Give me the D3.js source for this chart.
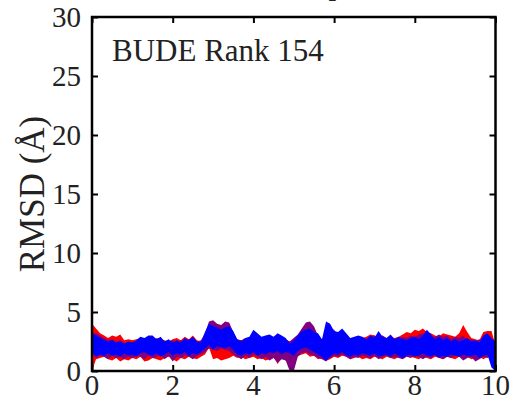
<!DOCTYPE html>
<html>
<head>
<meta charset="utf-8">
<script src="https://cdn.jsdelivr.net/npm/d3@7"></script>
<style>
  body { margin: 0; background: #fff; }
  svg { display: block; }
  text { font-family: "Liberation Serif", "DejaVu Serif", serif; fill: #222; }
</style>
</head>
<body>
<figure id="rmsd" style="margin:0"></figure>
<script>
// time in ns, sampled every 0.1 ns
const time = d3.range(0, 101).map(i => i / 10);

// band edges (RMSD, Å) for each run
const redUpper = [4.0,3.6,3.2,3.0,2.8,3.0,2.9,3.1,2.6,2.7, 2.6,2.7,2.8,2.6,2.9,2.6,2.8,2.7,2.6,2.5,
  2.7,2.8,2.6,2.9,2.7,3.0,2.6,2.5,2.9,3.5, 3.3,3.2,3.1,3.4,3.2,2.9,2.7,2.6,2.8,2.7,
  3.0,2.8,2.7,2.9,2.8,2.7,2.9,2.8,2.6,2.5, 2.7,3.0,3.2,3.3,3.1,3.0,2.8,2.6,3.0,3.2,
  3.1,3.0,3.3,3.0,2.7,2.8,2.9,2.8,2.9,3.1, 3.0,2.9,3.0,2.8,2.9,2.8,2.9,3.1,3.3,3.2,
  3.5,3.4,3.6,3.3,3.2,3.0,2.9,3.2,3.1,3.0, 2.9,3.2,3.9,3.3,2.8,2.7,2.6,3.3,3.4,3.4, 2.2];
const redLower = [0.0,1.0,1.1,1.2,1.0,0.9,1.1,0.8,1.0,0.9, 1.1,1.0,1.2,0.8,0.9,1.1,1.0,0.9,1.1,1.2,
  1.0,0.8,1.1,1.0,1.2,1.1,1.0,1.2,1.4,2.0, 1.0,1.1,0.9,1.0,1.1,1.3,1.1,1.2,1.0,1.1,
  1.2,1.0,1.1,0.9,1.0,1.2,0.6,1.1,0.9,1.0, 1.1,1.3,1.4,1.5,1.2,1.3,1.0,1.1,0.9,1.0,
  1.2,1.1,1.3,1.2,1.0,1.1,1.2,1.0,1.1,1.0, 1.2,1.1,1.0,1.2,1.1,1.0,1.2,1.1,1.3,1.2,
  1.1,1.0,1.2,1.1,1.0,1.2,1.1,1.0,1.2,1.1, 1.0,1.2,1.1,1.2,1.0,1.1,1.2,1.0,1.2,1.1, 1.0];

const purpleUpper = [3.0,3.2,3.0,2.8,2.6,2.7,2.5,2.6,2.4,2.3, 2.5,2.4,2.6,2.7,2.8,2.7,2.6,2.8,2.4,2.5,
  2.6,2.4,2.6,2.5,2.7,2.6,2.5,2.6,3.2,4.2, 4.3,4.0,3.9,4.2,4.1,3.3,2.6,2.6,2.7,2.6,
  2.9,3.0,2.7,2.8,2.9,2.7,2.8,2.6,2.7,2.5, 2.8,3.1,3.6,4.1,4.2,3.8,3.0,2.6,3.3,3.6,
  3.5,3.0,3.4,3.1,2.7,2.8,2.6,2.8,2.7,2.9, 3.0,2.8,3.0,2.7,2.9,2.6,2.7,2.9,2.8,3.0,
  2.9,3.1,3.2,3.0,2.8,2.9,3.1,2.9,3.0,2.7, 2.9,2.8,3.0,2.6,2.7,2.5,2.7,2.6,2.9,2.7, 2.5];
const purpleLower = [1.5,1.1,1.3,1.2,1.0,1.3,1.1,1.2,1.0,1.2, 1.1,1.3,1.2,1.0,1.3,1.1,1.2,1.4,1.0,1.3,
  0.8,1.2,1.1,1.3,1.2,1.0,1.3,1.4,1.6,1.9, 1.8,1.7,1.9,1.8,1.7,1.4,1.2,1.0,1.3,1.1,
  1.4,1.2,1.0,1.2,0.9,1.1,0.7,1.0,0.9,0.0, 0.0,1.2,1.5,1.6,1.4,1.3,1.1,1.0,0.8,1.1,
  1.3,1.2,1.4,1.2,1.0,1.2,1.1,1.3,1.2,1.1, 1.3,1.0,1.2,1.3,1.1,1.2,1.1,1.0,1.2,1.1,
  1.3,1.2,1.0,1.2,1.1,1.3,1.2,1.0,1.2,1.1, 1.3,1.2,0.9,1.1,1.2,0.8,1.0,1.2,1.1,1.3, 1.2];

const blueUpper = [3.3,3.0,2.8,2.6,2.5,2.6,2.4,2.5,2.3,2.5, 2.4,2.6,2.9,2.8,3.0,3.0,2.7,2.9,2.5,2.7,
  2.4,2.6,2.4,2.8,2.6,2.9,2.5,2.4,3.3,4.0, 3.8,3.7,3.5,3.7,3.8,3.4,2.7,2.5,2.8,2.9,
  3.5,3.2,2.9,3.0,3.1,2.9,3.2,3.0,2.8,2.3, 2.6,3.0,3.4,3.5,3.6,3.3,3.2,2.7,4.2,4.0,
  3.4,3.3,3.6,3.2,2.8,2.9,3.0,2.9,2.7,3.0, 2.8,3.4,2.9,2.8,3.1,2.7,2.9,2.7,2.6,2.8,
  2.9,2.7,3.0,3.5,3.1,2.7,2.9,2.6,2.8,2.5, 2.7,2.5,2.6,2.8,2.5,2.6,2.4,3.0,3.2,2.8, 2.5];
const blueLower = [1.6,1.2,1.4,1.3,1.5,1.3,1.4,1.2,1.5,1.3, 1.4,1.2,1.5,1.6,1.4,1.3,1.5,1.2,1.4,1.6,
  1.3,1.5,1.4,1.6,1.3,1.5,1.4,1.6,1.9,2.2, 1.8,2.1,2.0,1.9,2.1,1.8,1.4,1.3,1.5,1.4,
  1.6,1.3,1.5,1.4,1.6,1.5,1.7,1.4,1.6,1.5, 1.3,1.7,1.9,2.0,1.8,1.6,1.4,1.2,0.9,1.2,
  1.5,1.4,1.6,1.3,1.2,1.4,1.3,1.5,1.4,1.3, 1.5,1.2,1.3,1.4,1.2,1.5,1.3,1.1,1.3,1.4,
  1.2,1.3,1.5,1.3,1.2,1.4,1.1,1.3,1.2,1.4, 1.3,1.2,1.4,1.3,1.2,1.4,1.1,1.3,1.4,0.3, 0.0];

const xTicks = [0, 2, 4, 6, 8, 10];
const yTicks = [0, 5, 10, 15, 20, 25, 30];

const bands = [
  {color: "#ff0000", upper: redUpper, lower: redLower},
  {color: "#800080", upper: purpleUpper, lower: purpleLower},
  {color: "#0000ff", upper: blueUpper, lower: blueLower}
];

const width = 511, height = 399;
const margin = {top: 17, right: 15.5, bottom: 28, left: 92};

const svg = d3.select("figure#rmsd")
  .append("svg")
  .attr("width", width)
  .attr("height", height);

const x = d3.scaleLinear().domain([0, 10]).range([margin.left, width - margin.right]);
const y = d3.scaleLinear().domain([0, 30]).range([height - margin.bottom, margin.top]);

const area = d3.area()
  .x(d => x(d.t))
  .y0(d => y(d.lo))
  .y1(d => y(d.hi));

svg.append("g")
  .selectAll("path")
  .data(bands)
  .join("path")
    .attr("fill", d => d.color)
    .attr("d", d => area(time.map((t, i) => ({t, lo: d.lower[i], hi: d.upper[i]}))));

// inward ticks on all four sides
const tickLen = 6;
svg.append("g")
    .attr("transform", `translate(0,${y(0)})`)
    .call(d3.axisBottom(x).tickValues(xTicks).tickSize(-tickLen).tickFormat(""))
    .call(g => g.select(".domain").remove());
svg.append("g")
    .attr("transform", `translate(0,${y(30)})`)
    .call(d3.axisTop(x).tickValues(xTicks).tickSize(-tickLen).tickFormat(""))
    .call(g => g.select(".domain").remove());
svg.append("g")
    .attr("transform", `translate(${x(0)},0)`)
    .call(d3.axisLeft(y).tickValues(yTicks).tickSize(-tickLen).tickFormat(""))
    .call(g => g.select(".domain").remove());
svg.append("g")
    .attr("transform", `translate(${x(10)},0)`)
    .call(d3.axisRight(y).tickValues(yTicks).tickSize(-tickLen).tickFormat(""))
    .call(g => g.select(".domain").remove());
svg.selectAll(".tick line").attr("stroke", "#000").attr("stroke-width", 2);

svg.append("rect")
    .attr("x", x(0))
    .attr("y", y(30))
    .attr("width", x(10) - x(0))
    .attr("height", y(0) - y(30))
    .attr("fill", "none")
    .attr("stroke", "#000")
    .attr("stroke-width", 2.5);

// tick labels
svg.append("g")
    .attr("font-size", 29)
    .attr("text-anchor", "middle")
  .selectAll("text")
  .data(xTicks)
  .join("text")
    .attr("x", d => x(d))
    .attr("y", 395)
    .text(d => d);

svg.append("g")
    .attr("font-size", 29)
    .attr("text-anchor", "end")
  .selectAll("text")
  .data(yTicks)
  .join("text")
    .attr("x", x(0) - 11)
    .attr("y", d => y(d))
    .attr("dy", "0.33em")
    .text(d => d);

svg.append("text")
    .attr("transform", `translate(44,${y(15)})rotate(-90)`)
    .attr("text-anchor", "middle")
    .attr("font-size", 35)
    .text("RMSD (Å)");

svg.append("text")
    .attr("x", 112)
    .attr("y", 61)
    .attr("font-size", 31)
    .text("BUDE Rank 154");

// title, almost entirely cut off by the top edge
svg.append("text")
    .attr("x", 325)
    .attr("y", 3)
    .attr("dy", "-0.3em")
    .attr("text-anchor", "middle")
    .attr("font-size", 31)
    .text("Complex");
</script>
</body>
</html>
